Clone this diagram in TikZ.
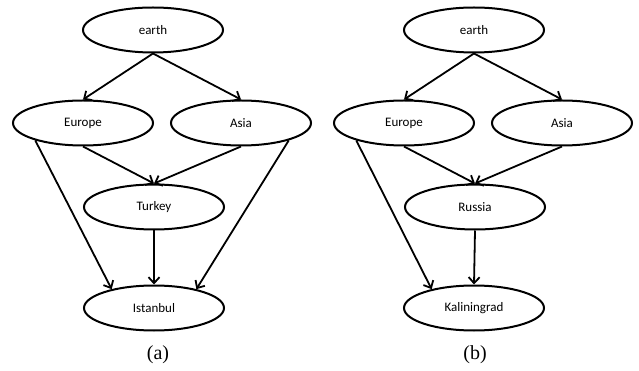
\documentclass[tikz,border=0pt]{standalone}
\usepackage{fontspec}
\setmainfont{Liberation Serif}
\newfontfamily\labelfont{Carlito}
\usetikzlibrary{shapes.geometric,arrows.meta}

\tikzset{
  place/.style={ellipse, draw, line width=2pt, minimum width=140pt,
    minimum height=45pt, inner sep=0pt, font=\labelfont\fontsize{13}{15}\selectfont},
  link/.style={line width=1.8pt, -{Straight Barb[length=6pt,width=11pt]}},
  caption/.style={font=\fontsize{20}{22}\selectfont}
}

\begin{document}
\begin{tikzpicture}[x=1pt,y=-1pt]
  \useasboundingbox (0,0) rectangle (639,371);

  % (a) Istanbul
  \node[place] (ea) at (153,30) {earth};
  \node[place] (eua) at (83,123) {Europe};
  \node[place] (asa) at (241,123) {Asia};
  \node[place] (tk) at (154,207) {Turkey};
  \node[place] (ist) at (154,308) {Istanbul};
  \node[caption] (capa) at (158,355) {(a)};

  \draw[link] (ea.south) -- (eua.north);
  \draw[link] (ea.south) -- (asa.north);
  \draw[link] (eua.south) -- (tk.north);
  \draw[link] (asa.south) -- (tk.north);
  \draw[link] (tk.south) -- (ist.north);
  \draw[link] (eua.200) -- (ist.156);
  \draw[link] (asa.340) -- (ist.24);

  % (b) Kaliningrad
  \node[place] (eb) at (474,30) {earth};
  \node[place] (eub) at (404,123) {Europe};
  \node[place] (asb) at (562,123) {Asia};
  \node[place] (ru) at (475,207) {Russia};
  \node[place] (kal) at (474,308) {Kaliningrad};
  \node[caption] (capb) at (475,355) {(b)};

  \draw[link] (eb.south) -- (eub.north);
  \draw[link] (eb.south) -- (asb.north);
  \draw[link] (eub.south) -- (ru.north);
  \draw[link] (asb.south) -- (ru.north);
  \draw[link] (ru.south) -- (kal.north);
  \draw[link] (eub.200) -- (kal.156);
\end{tikzpicture}
\end{document}
